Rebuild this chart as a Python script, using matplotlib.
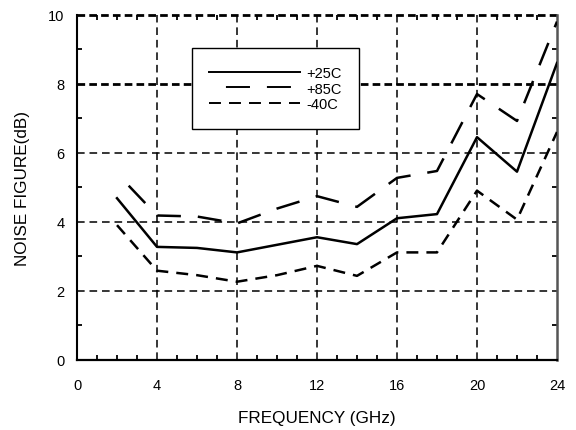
import matplotlib
matplotlib.use("Agg")
import matplotlib.pyplot as plt
from matplotlib.ticker import MultipleLocator

plt.rcParams["font.family"] = ["Liberation Sans", "DejaVu Sans"]
plt.rcParams["lines.scale_dashes"] = False

# Noise figure vs frequency at three temperatures
freq_ghz = [2, 4, 6, 8, 10, 12, 14, 16, 18, 20, 22, 24]
nf_25c = [4.68, 3.27, 3.24, 3.11, 3.33, 3.55, 3.35, 4.10, 4.22, 6.45, 5.45, 8.60]
nf_85c = [5.40, 4.18, 4.15, 3.95, 4.38, 4.74, 4.43, 5.27, 5.47, 7.70, 6.92, 9.80]
nf_m40c = [3.90, 2.58, 2.45, 2.26, 2.45, 2.72, 2.43, 3.11, 3.11, 4.90, 4.06, 6.60]
series_labels = ["+25C", "+85C", "-40C"]

x_ticks = [0, 4, 8, 12, 16, 20, 24]
y_ticks = [0, 2, 4, 6, 8, 10]

fig = plt.figure(figsize=(5.76, 4.31), dpi=100)
ax = fig.add_axes([0.1337, 0.1631, 0.8333, 0.8005])

ax.set_xlim(0, 24)
ax.set_ylim(0, 10)
ax.set_xticks(x_ticks)
ax.set_yticks(y_ticks)
ax.xaxis.set_minor_locator(MultipleLocator(1))
ax.yaxis.set_minor_locator(MultipleLocator(1))

# dashed grid; the 8 dB line and the top border are heavier
grid_style = dict(color="black", linestyle=(0, (5.5, 3.5)), linewidth=1.1, zorder=1)
for xv in x_ticks[1:-1]:
    ax.axvline(xv, **grid_style)
for yv in [2, 4, 6]:
    ax.axhline(yv, **grid_style)
heavy_style = dict(color="black", linestyle=(0, (5.5, 3.0)), linewidth=2.0, zorder=1)
ax.axhline(8, **heavy_style)
ax.axhline(10, clip_on=False, **heavy_style)

ax.spines["top"].set_visible(False)
ax.spines["left"].set_linewidth(1.5)
ax.spines["bottom"].set_linewidth(1.6)
ax.spines["right"].set_linewidth(1.8)
ax.spines["right"].set_color("#555555")

ax.tick_params(which="both", direction="in", top=True, right=True, width=1.3,
               color="black")
ax.tick_params(which="major", length=0, labelsize=10.5, pad=13)
ax.tick_params(axis="y", which="major", pad=9)
ax.tick_params(which="minor", length=3.5)

lw = 1.8
ax.plot(freq_ghz, nf_25c, color="black", linewidth=lw, linestyle="-",
        label=series_labels[0], zorder=3)
ax.plot(freq_ghz, nf_85c, color="black", linewidth=lw,
        linestyle=(17.3, (17.3, 12.2)), label=series_labels[1], zorder=3)
ax.plot(freq_ghz, nf_m40c, color="black", linewidth=lw,
        linestyle=(0, (8.6, 5.8)), label=series_labels[2], zorder=3)

leg = ax.legend(loc="upper left", bbox_to_anchor=(0.239, 0.9026),
                borderaxespad=0, fontsize=10.5, frameon=True, fancybox=False,
                edgecolor="black", framealpha=1, handlelength=6.2,
                handletextpad=0.45, labelspacing=0.12, borderpad=1.2)
leg.get_frame().set_linewidth(1.0)
leg.set_zorder(5)
for h in leg.get_lines():
    h.set_linewidth(1.4)

ax.set_xlabel("FREQUENCY (GHz)", fontsize=12.3, labelpad=13)
ax.set_ylabel("NOISE FIGURE(dB)", fontsize=12.3, labelpad=13)

fig.savefig("out.png", dpi=100)
